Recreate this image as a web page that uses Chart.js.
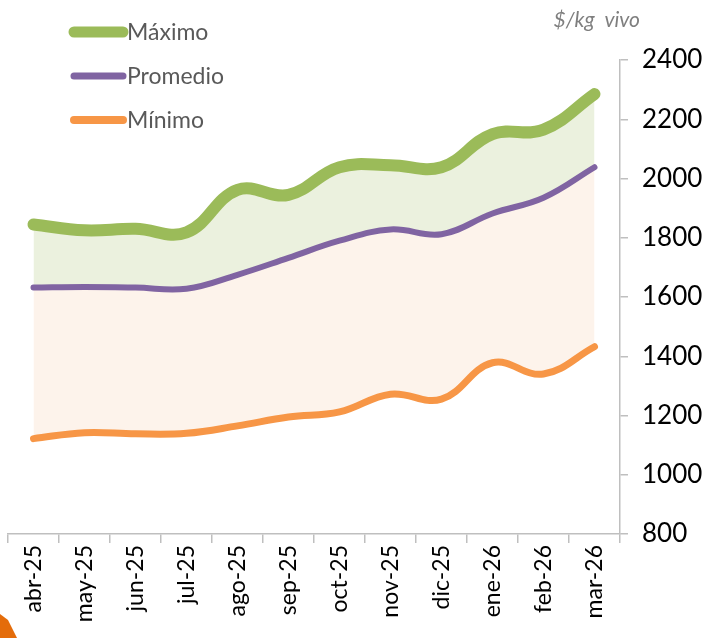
<!DOCTYPE html>
<html>
<head>
<meta charset="utf-8">
<script src="https://cdn.jsdelivr.net/npm/chart.js@4"></script>
<style>
  html, body { margin: 0; padding: 0; background: #ffffff; }
  #wrap { position: relative; width: 717px; height: 638px; }
</style>
</head>
<body>
<div id="wrap"><canvas id="priceChart" width="717" height="638"></canvas></div>
<script>
// -------------------- DATA --------------------
const months = ["abr-25", "may-25", "jun-25", "jul-25", "ago-25", "sep-25",
                "oct-25", "nov-25", "dic-25", "ene-26", "feb-26", "mar-26"];
const maximo   = [1845, 1825, 1830, 1818, 1962, 1945, 2038, 2045, 2038, 2150, 2165, 2285];
const promedio = [1632, 1634, 1632, 1628, 1675, 1732, 1790, 1828, 1812, 1882, 1935, 2038];
const minimo   = [1122, 1142, 1138, 1140, 1165, 1195, 1212, 1272, 1255, 1378, 1340, 1432];
const yTicks   = [800, 1000, 1200, 1400, 1600, 1800, 2000, 2200, 2400];
const unitLabel = "$/kg  vivo";

// -------------------- COLORS --------------------
const green = "#9bbb59";
const purple = "#8064a2";
const orange = "#f79646";
const axisGray = "#bfbfbf";
const FONT = "Lato, 'Open Sans', sans-serif";

// -------------------- LEGEND + UNIT --------------------
const sideLegend = {
    id: "sideLegend",
    afterDraw(chart) {
        const { ctx } = chart;
        ctx.save();
        ctx.font = "23px " + FONT;
        ctx.textBaseline = "middle";
        chart.data.datasets.forEach((ds, i) => {
            const y = 32 + i * 44;
            ctx.strokeStyle = ds.borderColor;
            ctx.lineWidth = ds.legendWidth;
            ctx.lineCap = "round";
            ctx.beginPath();
            ctx.moveTo(74, y);
            ctx.lineTo(123, y);
            ctx.stroke();
            ctx.fillStyle = "#595959";
            ctx.fillText(ds.label, 127, y + 1);
        });

        ctx.font = "italic 21px " + FONT;
        ctx.fillStyle = "#7f7f7f";
        ctx.textAlign = "right";
        ctx.fillText(unitLabel, 640, 20);

        // corner of the logo
        ctx.fillStyle = "#e46c0a";
        ctx.beginPath();
        ctx.moveTo(0, 614);
        ctx.lineTo(8, 620);
        ctx.lineTo(17, 638);
        ctx.lineTo(0, 638);
        ctx.closePath();
        ctx.fill();
        ctx.restore();
    }
};

// -------------------- BUILD CHART --------------------
new Chart(document.getElementById("priceChart"), {
    type: "line",
    plugins: [sideLegend],
    data: {
        labels: months,
        datasets: [
            {
                label: "Máximo",
                data: maximo,
                borderColor: green,
                borderWidth: 12,
                legendWidth: 11,
                backgroundColor: "rgba(235, 241, 222, 1)",
                fill: "+1"
            },
            {
                label: "Promedio",
                data: promedio,
                borderColor: purple,
                borderWidth: 6,
                legendWidth: 7,
                backgroundColor: "rgba(253, 243, 235, 1)",
                fill: "+1"
            },
            {
                label: "Mínimo",
                data: minimo,
                borderColor: orange,
                borderWidth: 7,
                legendWidth: 8,
                fill: false
            }
        ]
    },
    options: {
        responsive: false,
        animation: false,
        layout: { padding: { top: 60, left: 8, right: 0, bottom: 0 } },
        elements: {
            point: { radius: 0 },
            line: { tension: 0.4, borderCapStyle: "round", borderJoinStyle: "round" }
        },
        plugins: {
            legend: { display: false },
            tooltip: { enabled: false },
            filler: { drawTime: "beforeDatasetsDraw" }
        },
        scales: {
            x: {
                offset: true,
                grid: {
                    offset: true,
                    drawOnChartArea: false,
                    drawTicks: true,
                    tickLength: 9,
                    color: axisGray,
                    lineWidth: 1.5
                },
                border: { color: axisGray, width: 1.5 },
                ticks: {
                    color: "#000000",
                    font: { family: FONT, size: 23 },
                    minRotation: 90,
                    maxRotation: 90,
                    autoSkip: false,
                    padding: 2
                },
                afterFit(scale) { scale.height = 104; }
            },
            y: {
                position: "right",
                min: yTicks[0],
                max: yTicks[yTicks.length - 1],
                afterBuildTicks(scale) {
                    scale.ticks = yTicks.map(v => ({ value: v }));
                },
                grid: {
                    drawOnChartArea: false,
                    drawTicks: true,
                    tickLength: 8,
                    color: axisGray,
                    lineWidth: 1.5
                },
                border: { color: axisGray, width: 1.5 },
                ticks: {
                    color: "#000000",
                    font: { family: FONT, size: 26 },
                    padding: 14,
                    callback: v => String(v)
                },
                afterFit(scale) { scale.width = 97; }
            }
        }
    }
});
</script>
</body>
</html>
